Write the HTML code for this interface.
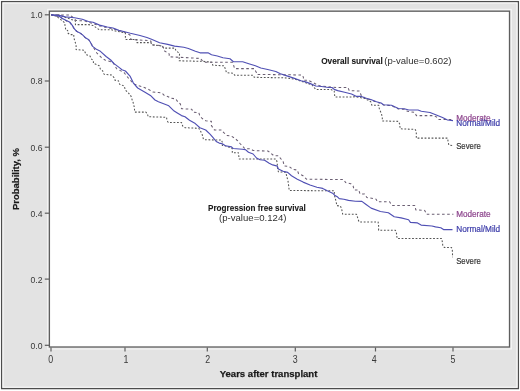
<!DOCTYPE html>
<html><head><meta charset="utf-8"><title>Survival curves</title>
<style>
html,body{margin:0;padding:0;background:#ffffff;width:520px;height:391px;overflow:hidden;}
svg{display:block;filter:blur(0.5px);}
</style></head><body>
<svg width="520" height="391" viewBox="0 0 520 391"><rect x="0" y="0" width="520" height="391" fill="#ffffff"/><rect x="1.6" y="1.6" width="516.8" height="387" fill="#e3e3e3" stroke="#4d4d4d" stroke-width="1.3"/><rect x="3" y="3" width="514" height="384.2" fill="none" stroke="#fbfbfb" stroke-width="1"/><rect x="47.7" y="9.4" width="463.6" height="339.6" fill="none" stroke="#f6f6f6" stroke-width="1.1"/><rect x="49.4" y="11.2" width="460.1" height="335.8" fill="#ffffff" stroke="#5e5e5e" stroke-width="1.3"/><line x1="44.8" y1="14.8" x2="49" y2="14.8" stroke="#5e5e5e" stroke-width="1.2"/><text transform="translate(42.5,18.2) scale(0.9,1)" font-family='"Liberation Sans", sans-serif' font-size="9.6" fill="#383838" text-anchor="end">1.0</text><line x1="44.8" y1="81.0" x2="49" y2="81.0" stroke="#5e5e5e" stroke-width="1.2"/><text transform="translate(42.5,84.4) scale(0.9,1)" font-family='"Liberation Sans", sans-serif' font-size="9.6" fill="#383838" text-anchor="end">0.8</text><line x1="44.8" y1="147.2" x2="49" y2="147.2" stroke="#5e5e5e" stroke-width="1.2"/><text transform="translate(42.5,150.6) scale(0.9,1)" font-family='"Liberation Sans", sans-serif' font-size="9.6" fill="#383838" text-anchor="end">0.6</text><line x1="44.8" y1="213.2" x2="49" y2="213.2" stroke="#5e5e5e" stroke-width="1.2"/><text transform="translate(42.5,216.6) scale(0.9,1)" font-family='"Liberation Sans", sans-serif' font-size="9.6" fill="#383838" text-anchor="end">0.4</text><line x1="44.8" y1="279.1" x2="49" y2="279.1" stroke="#5e5e5e" stroke-width="1.2"/><text transform="translate(42.5,282.5) scale(0.9,1)" font-family='"Liberation Sans", sans-serif' font-size="9.6" fill="#383838" text-anchor="end">0.2</text><line x1="44.8" y1="345.3" x2="49" y2="345.3" stroke="#5e5e5e" stroke-width="1.2"/><text transform="translate(42.5,348.7) scale(0.9,1)" font-family='"Liberation Sans", sans-serif' font-size="9.6" fill="#383838" text-anchor="end">0.0</text><line x1="51" y1="347.5" x2="51" y2="351.5" stroke="#5e5e5e" stroke-width="1.2"/><text transform="translate(50.6,363) scale(0.86,1)" font-family='"Liberation Sans", sans-serif' font-size="10.3" fill="#383838" text-anchor="middle">0</text><line x1="125" y1="347.5" x2="125" y2="351.5" stroke="#5e5e5e" stroke-width="1.2"/><text transform="translate(126.0,363) scale(0.86,1)" font-family='"Liberation Sans", sans-serif' font-size="10.3" fill="#383838" text-anchor="middle">1</text><line x1="207.3" y1="347.5" x2="207.3" y2="351.5" stroke="#5e5e5e" stroke-width="1.2"/><text transform="translate(207.8,363) scale(0.86,1)" font-family='"Liberation Sans", sans-serif' font-size="10.3" fill="#383838" text-anchor="middle">2</text><line x1="295.3" y1="347.5" x2="295.3" y2="351.5" stroke="#5e5e5e" stroke-width="1.2"/><text transform="translate(295.1,363) scale(0.86,1)" font-family='"Liberation Sans", sans-serif' font-size="10.3" fill="#383838" text-anchor="middle">3</text><line x1="375.5" y1="347.5" x2="375.5" y2="351.5" stroke="#5e5e5e" stroke-width="1.2"/><text transform="translate(374.3,363) scale(0.86,1)" font-family='"Liberation Sans", sans-serif' font-size="10.3" fill="#383838" text-anchor="middle">4</text><line x1="453" y1="347.5" x2="453" y2="351.5" stroke="#5e5e5e" stroke-width="1.2"/><text transform="translate(453.0,363) scale(0.86,1)" font-family='"Liberation Sans", sans-serif' font-size="10.3" fill="#383838" text-anchor="middle">5</text><text x="219.7" y="376.6" font-family='"Liberation Sans", sans-serif' font-size="9.8" font-weight="bold" fill="#1a1a1a" stroke="#1a1a1a" stroke-width="0.25" textLength="97.7" lengthAdjust="spacingAndGlyphs">Years after transplant</text><text transform="translate(18.8,210) rotate(-90)" x="0" y="0" font-family='"Liberation Sans", sans-serif' font-size="9.8" font-weight="bold" fill="#1a1a1a" stroke="#1a1a1a" stroke-width="0.2" textLength="62" lengthAdjust="spacingAndGlyphs">Probability, %</text><polyline points="51,14.8 60,15.2 64,17 75.4,20.8 75.4,24.6 88.5,24.6 93,25.4 99.2,29.7 111.5,29.7 114.6,30.8 125.4,33 125.4,39.2 126.2,39.5 136.9,39.5 136.9,42.6 150.8,42.6 151.9,44.9 162.3,46 163.5,48.1 175,48.1 176.1,51 179.6,53.3 179,60.8 205,61.4 212,62.3 212.7,65.2 224.2,65.8 225.4,69.2 226.5,72.7 233.4,73.3 234.6,75.2 253,75.2 254.2,77.3 286.1,77.9 290,78.5 296,79.5 305,82.5 312,85 315.8,89.4 330.8,89.4 334.2,91.1 334.8,96.9 352.7,96.9 356,96.8 365,98.5 370.8,101.8 371.9,105.3 378.8,105.3 379.4,109.3 381.1,112.8 382.3,116.8 382.3,120.9 398.4,121.4 399.6,123.8 400.2,128.8 415,129.4 416.3,131.3 416.3,138.1 447.5,138.1 448.1,141.3 448.8,145 452.5,145.6" fill="none" stroke="#555555" stroke-width="1.05" stroke-linejoin="round" stroke-dasharray="1.8 1.7"/><polyline points="51,14.8 56,16 60.8,19.6 64.6,22.7 65,25.4 65.8,30 67.7,30.4 67.7,33 70,34.6 73.8,34.6 73.8,37.7 75,41.5 76.1,45 76.1,49.6 84.2,50.2 85.4,53.1 86.5,54.8 90,56 91.1,58.8 93.4,60.6 93.4,63.4 96.9,64.6 99.2,65.8 100.4,69.2 102.7,70.9 103.8,73.8 104.6,74.4 111.5,75 113.8,77.3 115,80.2 118.5,80.8 119.6,84.2 124.2,86 125.4,90 128.8,93.4 131.1,96.3 132.3,100.4 133.1,102.3 134.2,106.9 134.8,112.1 145.8,112.1 147.5,113.8 148.1,116.7 166.5,117.3 167.1,120.8 168.3,122.5 181.5,122.5 182.7,126 184.9,127.7 198.8,128.3 200.5,131.1 202.2,134.6 203.4,139.2 204.5,139.8 221.5,140 222.3,142.3 222.3,145.4 226,146 232.3,148.5 232.3,152.7 238.5,152.7 238.8,156.2 239.2,159 256.5,158.9 276.1,159.1 277.3,162.6 277.3,167.2 278.4,171.8 285.8,172.3 286.9,176.9 288.1,181.5 288.7,186.1 289.2,190.5 334.2,190.8 334.6,195.8 335.8,200.4 336.9,205.6 340.4,206.1 341.5,208.4 342.7,214.2 356.5,214.2 357.9,218.5 359,221.9 378.1,221.9 378.6,225.4 378.6,230.2 395.4,230.2 396.5,233.4 397.1,238.5 441.7,238.5 442.5,242.8 442.8,245.9 444.3,247.4 451.5,247.4 452.3,250 452.5,253.5 452.5,257.3" fill="none" stroke="#555555" stroke-width="1.05" stroke-linejoin="round" stroke-dasharray="1.8 1.7"/><polyline points="51,14.8 70,15 73,17.5 76,20.5 85,21 93,23.5 100,26 113,28.8 124,32 130,35 131,39.5 145,40.3 150.8,41 151.9,44.7 162.3,45.8 163.5,48.1 164.6,51 169.2,53.9 169.2,56.8 191.1,57.9 200.4,58.5 202.3,60.6 204.6,62.3 232.3,62.3 233.4,64.6 234.6,68.6 254.2,68.6 256.5,72.7 256.7,74.4 302.3,75 303.4,77.3 303.4,80.2 308,80.2 312.7,82.5 320,86 336.5,87.5 348,87.5 349.2,90.6 359.6,91.1 361,95 365.4,98.3 370.8,99.9 376.5,102.2 381.1,103.4 383.5,105.1 391.5,105.7 398.4,108.9 404.2,109.3 407.5,111.3 415,112.5 416.3,115.6 433.8,115.6 437.5,117.5 438.8,119.5 453,119.5" fill="none" stroke="#6a5e72" stroke-width="1.05" stroke-linejoin="round" stroke-dasharray="2.6 2.5"/><polyline points="51,14.8 60,16.8 63,19 67,21.2 70,22.8 72.5,26 75,30 78,32.2 81.5,34 85,37.5 89,40 92,45 96.9,53.1 99.2,55.4 101.5,57.7 105,60 113,62.3 116.5,68.6 124.2,72.7 127.7,77.3 132,82 134.6,84.2 137.7,85.6 142.3,86.7 148,89 152.7,91.9 158.4,92.5 161.9,93.1 164.2,95.4 167.7,96.5 171.1,98.3 175.7,98.8 178.1,102.3 180.4,104 181.5,108.7 191.8,109.2 193,112.1 198.8,112.7 199.9,116.1 202.2,118.5 205.7,120.8 211.4,121.3 211.4,125.4 213.8,129.4 214.6,130 221.5,130 223.8,132.7 226.9,135.4 231.5,136.2 234.6,138.1 237.7,140.8 240,143.5 242.3,145.8 245,148.8 250.2,148.8 253.1,150.5 268.1,151.1 270.4,152.8 273.8,155.7 278.4,155.7 280.7,158.6 283.1,161.4 284.2,166 289.2,166.5 292.7,169.4 297.3,170 298.5,173.5 303.1,175.8 306.5,179.2 343.8,179.6 345.6,182.5 350.8,183.7 353.1,186 354.2,190 358.8,190 360,194 364.6,194 366.9,197.5 370.4,198.1 376.1,199.2 377.3,201.7 389.6,201.7 391.9,205.4 414.9,205.4 415.8,209.9 424.7,210.4 426.5,214.3 453.4,214.3" fill="none" stroke="#6a5e72" stroke-width="1.05" stroke-linejoin="round" stroke-dasharray="2.6 2.5"/><polyline points="51,14.8 59,15.4 65.4,16.9 74.6,17.7 82.3,19.2 88.4,21.5 93,22.3 99.6,25.1 107.3,27 113,28 118.8,30.4 124.6,31.8 130.4,33.3 140,35.5 146.9,37.5 151.5,39.2 159.6,42.7 167.7,44.4 174.6,46.1 183.8,47.3 188.4,48.5 195.4,51.3 200,52.8 208,52.8 211.5,54.8 217.3,56 223,57.7 230,58.8 233.4,61.7 242.7,61.7 249.6,64 255.4,65.8 260.8,68 268.8,69.8 275.8,71.5 280.4,73.8 286.1,75.6 293,77.9 301.1,80.8 305.7,81.9 310.4,83.6 315.8,86 321.5,86.5 328.5,87.5 332,87.5 334.2,89.4 337.7,90.6 344.6,92.3 351.5,94 356.1,96.3 360.7,96.3 365.4,98 370.8,99.5 376.5,101.8 381.1,103 383.5,104.7 391.5,105.3 398.4,108.5 404.2,108.8 408.8,110 418,110 421.3,111.3 430,112.5 436.3,115 442.5,117.5 447.5,120 453,120.6" fill="none" stroke="#5050b4" stroke-width="1.15" stroke-linejoin="round"/><polyline points="51,14.8 59.2,16.2 62.3,18.5 66.9,20.8 70,22.3 72.3,25.4 74.6,29.2 76.9,31.5 80,33 82.3,34.6 85.4,37.7 88.4,39.5 90,41.5 92.3,46.1 96.9,49.6 100.4,51.3 106.1,56.5 110.7,60 113.8,63.5 115.4,64.6 120,68.1 121.9,69.8 125.4,71 130,76.1 133.4,83.1 137.7,88 144.6,91.9 150.4,95.4 155,100 158.4,101.7 163,103.5 168.8,105.8 173.4,110.4 176.9,112.7 181.5,115.6 185,116.7 189.5,120.2 195.3,123.6 199.9,127.7 205.7,130 210,134.2 213.1,137.7 216.2,141.5 219.2,143.1 222.3,143.8 225.4,145.8 231.5,146.9 233.1,148.5 242.3,149.2 245.4,149.6 248.5,152.3 253.1,154 256.5,158 260,159.7 264.6,160.3 269.2,163.2 272.7,164.9 277.3,166.1 278.4,169 283.1,171.3 287.7,172.4 291.5,175.8 297.3,179.2 303.1,182.1 310,185 316.9,187.3 322.7,188.4 327.3,190.8 333.1,193.6 334.6,195.2 337.7,197.1 339.2,198.6 343.8,199.2 348.5,200.4 355.4,201.3 361.9,201.4 365.4,204 371.1,208.1 380.4,211.5 388.4,212.7 394.2,216.7 401.1,217.9 408.6,219.7 410.4,222.4 417.5,222.9 421.1,225.1 431.9,226 435.5,226.9 440.8,227.8 443.5,229.6 452.5,229.6" fill="none" stroke="#5050b4" stroke-width="1.15" stroke-linejoin="round"/><text x="321.2" y="63.8" font-family='"Liberation Sans", sans-serif' font-size="9" font-weight="bold" fill="#1a1a1a" stroke="#1a1a1a" stroke-width="0.1" textLength="61.5" lengthAdjust="spacingAndGlyphs">Overall survival</text><text x="384.3" y="64.2" font-family='"Liberation Sans", sans-serif' font-size="9.4" fill="#303030" textLength="67.2" lengthAdjust="spacingAndGlyphs">(p-value=0.602)</text><text x="208" y="211.3" font-family='"Liberation Sans", sans-serif' font-size="9" font-weight="bold" fill="#1a1a1a" stroke="#1a1a1a" stroke-width="0.1" textLength="97.8" lengthAdjust="spacingAndGlyphs">Progression free survival</text><text x="219" y="220.8" font-family='"Liberation Sans", sans-serif' font-size="9.4" fill="#303030" textLength="67.5" lengthAdjust="spacingAndGlyphs">(p-value=0.124)</text><text x="456.2" y="121" font-family='"Liberation Sans", sans-serif' font-size="8.7" fill="#8e468e" stroke="#8e468e" stroke-width="0.22" textLength="34.4" lengthAdjust="spacingAndGlyphs">Moderate</text><text x="456.2" y="126.2" font-family='"Liberation Sans", sans-serif' font-size="8.7" fill="#4242ac" stroke="#4242ac" stroke-width="0.22" textLength="44" lengthAdjust="spacingAndGlyphs">Normal/Mild</text><text x="456.2" y="148.6" font-family='"Liberation Sans", sans-serif' font-size="8.7" fill="#333333" stroke="#333333" stroke-width="0.18" textLength="24.6" lengthAdjust="spacingAndGlyphs">Severe</text><text x="456.2" y="216.7" font-family='"Liberation Sans", sans-serif' font-size="8.7" fill="#8e468e" stroke="#8e468e" stroke-width="0.22" textLength="34.4" lengthAdjust="spacingAndGlyphs">Moderate</text><text x="456.2" y="231.8" font-family='"Liberation Sans", sans-serif' font-size="8.7" fill="#4242ac" stroke="#4242ac" stroke-width="0.22" textLength="44" lengthAdjust="spacingAndGlyphs">Normal/Mild</text><text x="456.2" y="264" font-family='"Liberation Sans", sans-serif' font-size="8.7" fill="#333333" stroke="#333333" stroke-width="0.18" textLength="24.6" lengthAdjust="spacingAndGlyphs">Severe</text></svg>
</body></html>
